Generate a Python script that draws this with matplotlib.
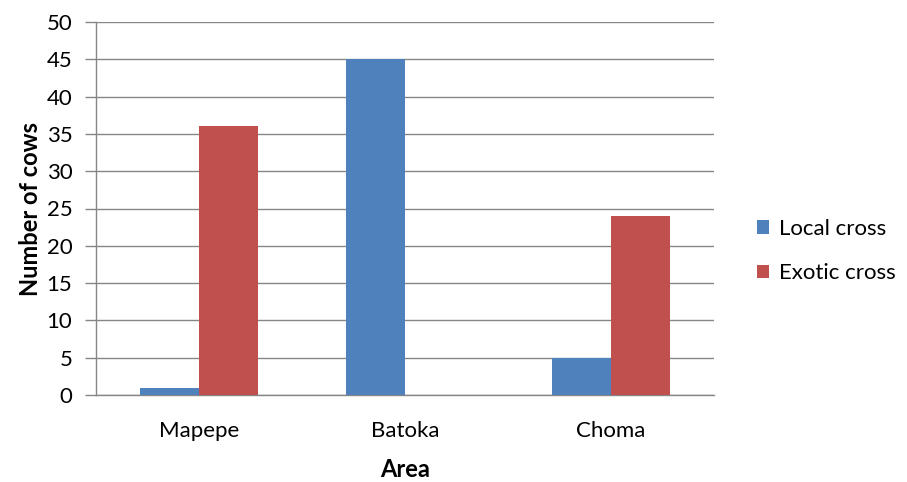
import matplotlib
matplotlib.use("Agg")
import matplotlib.pyplot as plt
import numpy as np

plt.rcParams['font.family'] = ['Lato', 'DejaVu Sans']

areas = ["Mapepe", "Batoka", "Choma"]
local_cross = [1, 45, 5]
exotic_cross = [36, 0, 24]
yticks = [0, 5, 10, 15, 20, 25, 30, 35, 40, 45, 50]

fig = plt.figure(figsize=(9.07, 4.82), dpi=100)
ax = fig.add_axes([96/907, 1-395/482, (714-96)/907, (395-22)/482])

x = np.arange(len(areas))
w = 0.284
ax.bar(x - w/2, local_cross, w, color="#4F81BD", label="Local cross", zorder=3)
ax.bar(x + w/2, exotic_cross, w, color="#C0504D", label="Exotic cross", zorder=3)

ax.set_xlim(-0.5, 2.5)
ax.set_ylim(0, 50)
ax.set_yticks(yticks)
ax.yaxis.grid(True, color="#868686", linewidth=1, zorder=0)
ax.set_xticks(x)
ax.set_xticklabels(areas, fontsize=16)
ax.tick_params(axis='x', length=0, pad=19)
ax.tick_params(axis='y', labelsize=16, length=8, color="#868686", width=1, pad=9)
for s in ['top', 'right']:
    ax.spines[s].set_visible(False)
for s in ['left', 'bottom']:
    ax.spines[s].set_color("#868686")
    ax.spines[s].set_linewidth(1)

ax.set_ylabel("Number of cows", fontsize=17, fontweight='bold')
ax.yaxis.set_label_coords(-0.088, 0.5)
ax.set_xlabel("Area", fontsize=17, fontweight='bold')
ax.xaxis.set_label_coords(0.5, -0.168)

ax.legend(loc='center left', bbox_to_anchor=(737/907, 1-251/482), bbox_transform=fig.transFigure,
          frameon=False, fontsize=16, handlelength=0.55, handleheight=0.55,
          labelspacing=1.1, handletextpad=0.45)

fig.savefig("out.png", dpi=100)
